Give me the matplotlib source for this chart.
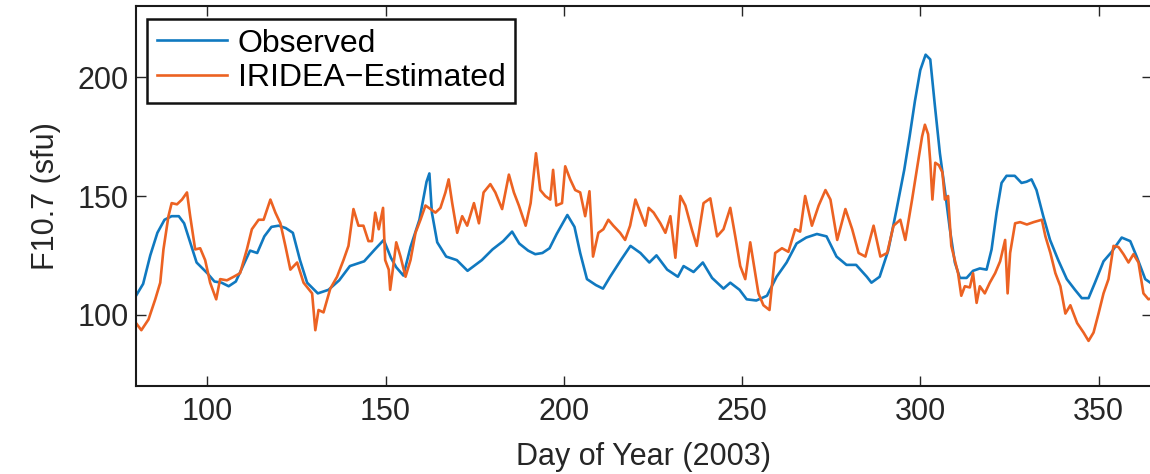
import matplotlib
matplotlib.use("Agg")
import matplotlib.pyplot as plt

plt.rcParams["font.family"] = ["Liberation Sans", "DejaVu Sans"]

# observed F10.7 flux (day of year 2003, sfu)
obs_day = [80, 82, 84, 86, 88, 90, 92, 93.5, 95.5, 97, 100, 102, 104, 106, 108,
           110, 112, 114, 116, 118, 120, 122, 124, 126, 128, 131, 134, 137, 140,
           144, 147, 149.5, 151.5, 153, 155, 157, 159.5, 161.5, 162.3, 163,
           164.5, 167, 170, 173, 177, 180, 183, 185.5, 187.5, 190, 192, 194,
           196, 198, 201, 203, 204.6, 206.5, 209, 211, 213, 216, 218.7, 221.5,
           224, 226, 229, 232, 233.6, 236.4, 239, 241.6, 244.8, 246.7, 249.3,
           251.3, 254, 257, 259.7, 262.5, 265.3, 268, 271, 273.7, 276.5, 279.3,
           282, 285, 286.3, 288.6, 291, 293.3, 295.5, 297, 298.5, 300, 301.5,
           302.8, 304.1, 305.5, 306.9, 308.3, 309.7, 311.1, 313, 314.8, 316.7,
           318.6, 320, 321.4, 322.8, 324.2, 326.5, 328.4, 329.8, 331.2, 332.6,
           334.5, 336.4, 338.7, 341.1, 343.4, 345.3, 347.2, 349, 351.4, 353.7,
           356.5, 358.9, 360.7, 363.1, 365]
obs_f107 = [108, 113, 125, 134.5, 140, 141.5, 141.5, 138.5, 129, 122, 117.5, 114,
            113.5, 112, 114, 120.5, 127, 126, 133, 137, 137.5, 136.5, 134.5, 123,
            113.5, 109, 110.5, 114.5, 120.5, 122.5, 127.5, 131.5, 124, 120, 116.5,
            128.5, 140, 156, 159.5, 143, 130.5, 124.5, 123, 118.5, 123, 127.5, 131,
            135, 130, 127, 125.5, 126, 128, 134, 142, 137, 126, 115, 112.5, 111,
            116, 123, 129, 126, 122, 125, 119, 116, 120.5, 118, 122, 115.5, 111,
            113.5, 110.5, 106.5, 106, 108, 116, 122, 130, 132.5, 134, 133, 124.5,
            121, 121, 116, 113.5, 116, 127, 144, 161, 175, 190, 203, 209.5, 207.5,
            188, 168, 152.5, 136, 122, 115.5, 115.5, 118.5, 119.5, 119, 127.5, 143,
            155.5, 158.5, 158.5, 155.5, 156, 157, 152.5, 141.5, 131.5, 123, 115,
            110.5, 107, 107, 113.5, 122.5, 126.5, 132.5, 131, 124.5, 115, 113]

# IRIDEA estimate
est_day = [80, 81.5, 83.5, 85.4, 86.8, 87.7, 89.1, 90, 91.5, 92.9, 94.3, 95.2,
           96.6, 98, 99.4, 100.8, 102.5, 103.6, 105.5, 107.4, 109.2, 111.1, 112.5,
           114.4, 115.8, 117.7, 119.1, 120.5, 121.9, 123.3, 125.2, 127, 129.4,
           130.3, 131.2, 132.6, 134.5, 136.4, 138.2, 139.6, 141, 142.4, 143.8,
           145.2, 146.2, 147.1, 148.1, 149.3, 149.9, 150.9, 151.3, 152.3, 153,
           154.2, 155.6, 157, 158.4, 159.8, 161.2, 162.6, 164, 165.4, 166.8,
           167.7, 168.7, 170.1, 171.5, 172.9, 174.8, 176.2, 177.5, 179.4, 180.8,
           182.7, 184.6, 186, 187.4, 189.3, 190.7, 192.2, 193.4, 194.8, 196.2,
           197, 197.9, 199.5, 200.4, 201.8, 203.2, 204.6, 206, 207.2, 208.2,
           209.7, 211.1, 212.5, 213.9, 215.8, 217.2, 218.6, 220.1, 221.5, 222.9,
           223.8, 225.2, 227.1, 228.5, 229.9, 231.3, 232.7, 234.1, 235.9, 237.3,
           239.2, 241.1, 243, 244.8, 246.7, 248.1, 249.5, 250.9, 252.3, 253.2,
           254.6, 256, 257.7, 259.3, 261.2, 263, 264.9, 266.3, 267.7, 269.6,
           271.5, 273.4, 274.8, 276.7, 279, 280.9, 282.7, 284.6, 286.9, 288.8,
           290.7, 292.5, 294.4, 295.8, 297.7, 299.5, 300.5, 301.3, 302.2, 302.8,
           303.4, 304.2, 305.2, 306.2, 306.9, 307.8, 308.7, 309.7, 310.6, 311.5,
           312.5, 313.9, 314.8, 315.8, 316.7, 318.1, 319.5, 321, 322.4, 323.8,
           324.5, 325.2, 326.6, 328, 329.9, 331.8, 334.1, 335.1, 336.5, 337.9,
           339.3, 340.7, 342.1, 344, 345.8, 347.2, 348.6, 350, 351.4, 352.8,
           354.2, 355.6, 357, 358.4, 359.8, 361.2, 362.6, 364, 365]
est_f107 = [96.5, 93.5, 98, 106.5, 113.5, 127.5, 141.5, 147, 146.5, 148.5, 151.5,
            141.5, 127.5, 128, 123, 113.5, 106.5, 115, 114.5, 116, 117.5, 127.5,
            136, 140, 140, 148.5, 143, 138.5, 129, 119, 122, 113.5, 109, 93.5, 102,
            101, 111, 116, 123, 129, 144.5, 137.5, 137.5, 131, 131, 143, 136, 145,
            123, 119, 110.5, 122, 130.5, 124.5, 116, 123, 134.5, 140, 146, 144.5,
            143, 145, 151.5, 157, 147, 134.5, 141.5, 137.5, 147, 138.5, 151.5, 155,
            151.5, 144.5, 159, 151.5, 146, 137.5, 147, 168, 152.5, 150, 148.5, 161,
            146, 147, 162.5, 157, 152.5, 151.5, 141.5, 152, 124.5, 134.5, 136, 140,
            137.5, 134.5, 131.5, 137.5, 148.5, 143, 137.5, 145, 143, 138.5, 134.5,
            141.5, 124, 150, 146, 136, 129, 147, 149, 133, 136, 145, 133, 120.5,
            115, 130.5, 122, 109, 104, 102, 126, 128, 126.5, 136, 135, 150, 137.5,
            146, 152.5, 148.5, 131.5, 144.5, 136, 126, 124.5, 137.5, 124.5, 126,
            137.5, 140, 131.5, 148.5, 165.5, 175, 180, 176, 164.5, 148.5, 164, 163,
            160, 148.5, 150, 129, 123, 117.5, 108, 112, 111.5, 117.5, 105, 112, 109,
            113.5, 117.5, 122.5, 131.5, 109, 126, 138.5, 139, 138, 139, 140, 133,
            126, 117.5, 112, 100.5, 104, 96.5, 92.5, 89, 92.5, 100.5, 109, 115, 129,
            128.5, 125.5, 122, 125.5, 122, 109, 106.5, 107]

W, H = 1150, 474
fig = plt.figure(figsize=(W / 100, H / 100), dpi=100)
ax = fig.add_axes([136 / W, 88 / H, (1152 - 136) / W, 380 / H])

ax.plot(obs_day, obs_f107, color="#1079c0", lw=1.9, label="Observed")
ax.plot(est_day, est_f107, color="#ec6222", lw=1.9, label="IRIDEA\u2212Estimated")

ax.set_xlim(80, 365)
ax.set_ylim(70, 230)
ax.set_xticks([100, 150, 200, 250, 300, 350])
ax.set_yticks([100, 150, 200])
ax.tick_params(direction="in", top=True, right=True, length=7, width=1,
               labelsize=22, colors="#262626")
ax.tick_params(axis="x", pad=8)
ax.tick_params(axis="y", pad=5)
for s in ax.spines.values():
    s.set_linewidth(1.5)
    s.set_color("#1a1a1a")

ax.set_xlabel("Day of Year (2003)", fontsize=22, color="#262626", labelpad=11)
ax.set_ylabel("F10.7 (sfu)", fontsize=22, color="#262626", labelpad=12)

leg = ax.legend(loc="upper left", bbox_to_anchor=(0.011, 0.966),
                borderaxespad=0, fontsize=23, fancybox=False, framealpha=1,
                edgecolor="#111111", handlelength=2.2, handletextpad=0.34,
                labelspacing=0.15, borderpad=0.3)
leg.get_frame().set_linewidth(1.8)

fig.savefig("out.png", dpi=100)
